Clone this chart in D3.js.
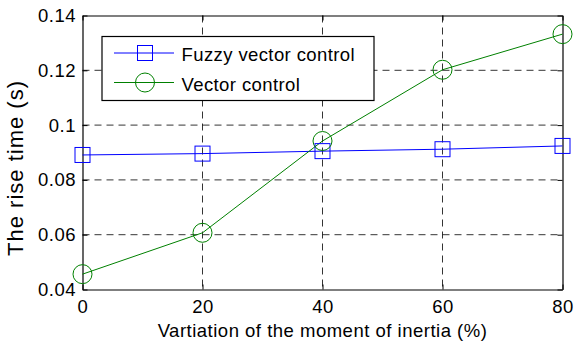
<!DOCTYPE html>
<html><head><meta charset="utf-8">
<script src="https://cdn.jsdelivr.net/npm/d3@7"></script>
<style>body{margin:0;background:#fff}svg{display:block}text{font-family:"Liberation Sans",Arial,sans-serif}</style>
</head><body><svg id="c" width="575" height="345"></svg>
<script>
const xValues = [0, 20, 40, 60, 80];
const fuzzy = [0.0891, 0.0896, 0.0905, 0.0912, 0.0924];
const vector = [0.0456, 0.0607, 0.0942, 0.1202, 0.1332];
const xTicks = [0, 20, 40, 60, 80];
const yTicks = [0.04, 0.06, 0.08, 0.1, 0.12, 0.14];
const yTickLabels = ["0.04", "0.06", "0.08", "0.1", "0.12", "0.14"];
const seriesNames = ["Fuzzy vector control", "Vector control"];

const svg = d3.select("#c");
const L = 82.5, R = 562.5, T = 15.5, B = 289.5;
const x = d3.scaleLinear().domain([0, 80]).range([L, R]);
const y = d3.scaleLinear().domain([0.04, 0.14]).range([B, T]);

// grid
const g = svg.append("g");
g.selectAll(".gx").data(xTicks.slice(1, -1)).enter().append("line")
  .attr("x1", d => x(d)).attr("x2", d => x(d)).attr("y1", T).attr("y2", B)
  .attr("stroke", "#000").attr("stroke-dasharray", "7,5").attr("stroke-width", 0.8);
g.selectAll(".gy").data(yTicks.slice(1, -1)).enter().append("line")
  .attr("y1", d => y(d)).attr("y2", d => y(d)).attr("x1", L).attr("x2", R)
  .attr("stroke", "#000").attr("stroke-dasharray", "7,5").attr("stroke-width", 0.8);

// axes
const fmt = d => yTickLabels[yTicks.indexOf(d)];
svg.append("g").attr("transform", `translate(0,${B})`)
  .call(d3.axisBottom(x).tickValues(xTicks).tickSizeInner(-5).tickSizeOuter(0).tickPadding(10));
svg.append("g").attr("transform", `translate(${L},0)`)
  .call(d3.axisLeft(y).tickValues(yTicks).tickFormat(fmt).tickSizeInner(-5).tickSizeOuter(0).tickPadding(6.5));
svg.append("g").attr("transform", `translate(0,${T})`)
  .call(d3.axisTop(x).tickValues(xTicks).tickSizeInner(-5).tickSizeOuter(0).tickFormat(""));
svg.append("g").attr("transform", `translate(${R},0)`)
  .call(d3.axisRight(y).tickValues(yTicks).tickSizeInner(-5).tickSizeOuter(0).tickFormat(""));
svg.selectAll(".domain").attr("stroke", "#000").attr("stroke-width", 1.2);
svg.selectAll(".tick line").attr("stroke", "#000");
svg.selectAll(".tick text").attr("font-size", 18.5).attr("fill", "#000")
  .style("letter-spacing", "0.5px")
  .style("font-family", '"Liberation Sans",Arial,sans-serif');

// axis titles
svg.append("text").attr("x", (L + R) / 2).attr("y", 337).attr("text-anchor", "middle")
  .attr("font-size", 18.5).style("letter-spacing", "0.5px").text("Vartiation of the moment of inertia (%)");
svg.append("text").attr("transform", `translate(23,168) rotate(-90)`)
  .attr("text-anchor", "middle").attr("font-size", 22).style("letter-spacing", "1px").text("The rise time (s)");

// lines
const line = d3.line().x((d, i) => x(xValues[i])).y(d => y(d));
svg.append("path").datum(fuzzy).attr("d", line).attr("fill", "none").attr("stroke", "#0000ff").attr("stroke-width", 1);
svg.append("path").datum(vector).attr("d", line).attr("fill", "none").attr("stroke", "#008000").attr("stroke-width", 1);
const sq = 15;
svg.selectAll(".sq").data(fuzzy).enter().append("rect")
  .attr("x", (d, i) => x(xValues[i]) - sq / 2).attr("y", d => y(d) - sq / 2)
  .attr("width", sq).attr("height", sq).attr("fill", "none").attr("stroke", "#0000ff");
svg.selectAll(".ci").data(vector).enter().append("circle")
  .attr("cx", (d, i) => x(xValues[i])).attr("cy", d => y(d)).attr("r", 9.5)
  .attr("fill", "none").attr("stroke", "#008000");

// legend
const lg = svg.append("g");
lg.append("rect").attr("x", 102).attr("y", 36.5).attr("width", 272).attr("height", 64)
  .attr("fill", "#fff").attr("stroke", "#000").attr("stroke-width", 1.2);
const rows = [53, 82.5];
const cols = ["#0000ff", "#008000"];
rows.forEach((ry, i) => {
  lg.append("line").attr("x1", 114).attr("x2", 174).attr("y1", ry).attr("y2", ry).attr("stroke", cols[i]);
  if (i === 0) lg.append("rect").attr("x", 145 - sq / 2).attr("y", ry - sq / 2).attr("width", sq).attr("height", sq)
    .attr("fill", "none").attr("stroke", cols[i]);
  else lg.append("circle").attr("cx", 145).attr("cy", ry).attr("r", 9.5).attr("fill", "none").attr("stroke", cols[i]);
  lg.append("text").attr("x", 181.5).attr("y", ry + 8).attr("font-size", 18.5)
    .style("letter-spacing", "0.4px").text(seriesNames[i]);
});
</script></body></html>
